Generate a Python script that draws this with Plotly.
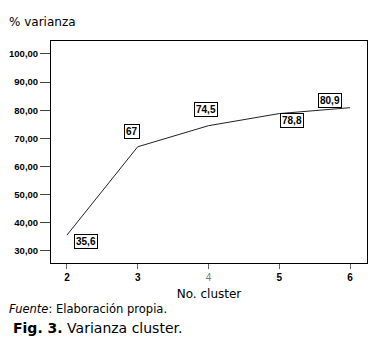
import plotly.graph_objects as go

clusters = [2, 3, 4, 5, 6]
varianza = [35.6, 67, 74.5, 78.8, 80.9]
point_labels = ["35,6", "67", "74,5", "78,8", "80,9"]
label_shift = [(19, -6), (-6, 15), (-2, 16), (13, -7), (-20, 7)]
y_ticks = [30, 40, 50, 60, 70, 80, 90, 100]
x_ticktext = ["<b>2</b>", "<b>3</b>", "<span style='color:#777'>4</span>", "<b>5</b>", "<b>6</b>"]

# page body has an 8px margin, so the figure is drawn 8px smaller and offset
OFF = 8
W, H = 382 - OFF, 360 - OFF
ml, mr, mt, mb = 51 - OFF, 15, 41 - OFF, 97
pw, ph = W - ml - mr, H - mt - mb
def px(x): return (x - OFF - ml) / pw
def py(y): return (H - mb - (y - OFF)) / ph

fig = go.Figure()
fig.add_trace(go.Scatter(
    x=clusters, y=varianza, mode="lines",
    line=dict(color="#222", width=1), showlegend=False, hoverinfo="skip"))

for xv, yv, t, (dx, dy) in zip(clusters, varianza, point_labels, label_shift):
    fig.add_annotation(
        x=xv, y=yv, xref="x", yref="y", text="<b>%s</b>" % t, showarrow=False,
        xshift=dx, yshift=dy, bgcolor="white", bordercolor="black", borderwidth=1,
        borderpad=1, font=dict(family="Liberation Sans", size=10, color="black"))

fig.add_annotation(x=px(7), y=py(22), xref="paper", yref="paper", text="% varianza", showarrow=False,
                   font=dict(family="DejaVu Sans", size=12, color="black"), xanchor="left", yanchor="middle")
fig.add_annotation(x=px(7), y=py(309), xref="paper", yref="paper",
                   text="<i>Fuente</i>: Elaboración propia.", showarrow=False,
                   font=dict(family="DejaVu Sans", size=11.5, color="black"), xanchor="left", yanchor="middle")
fig.add_annotation(x=px(11), y=py(328), xref="paper", yref="paper",
                   text="<b>Fig. 3.</b> Varianza cluster.", showarrow=False,
                   font=dict(family="DejaVu Sans", size=14, color="black"), xanchor="left", yanchor="middle")

fig.update_layout(
    width=W, height=H, margin=dict(l=ml, r=mr, t=mt, b=mb, autoexpand=False),
    paper_bgcolor="white", plot_bgcolor="white", separators=",.",
    xaxis=dict(range=[1.775, 6.24], tickvals=clusters, ticktext=x_ticktext, automargin=False,
               showgrid=False, zeroline=False, showline=True, mirror=True,
               linecolor="black", linewidth=1, ticks="outside", ticklen=5,
               tickcolor="#666", tickfont=dict(family="Liberation Sans", size=10, color="black"),
               title=dict(text="No. cluster", font=dict(family="DejaVu Sans", size=12, color="black"),
                          standoff=7)),
    yaxis=dict(range=[25.7, 104.6], tickvals=y_ticks, tickformat=".2f", automargin=False,
               showgrid=False, zeroline=False, showline=True, mirror=True,
               linecolor="black", linewidth=1, ticks="outside", ticklen=10,
               tickcolor="#444", tickfont=dict(family="Liberation Sans", size=9.5, color="black", weight="bold")),
)
fig.write_html("out.html")
